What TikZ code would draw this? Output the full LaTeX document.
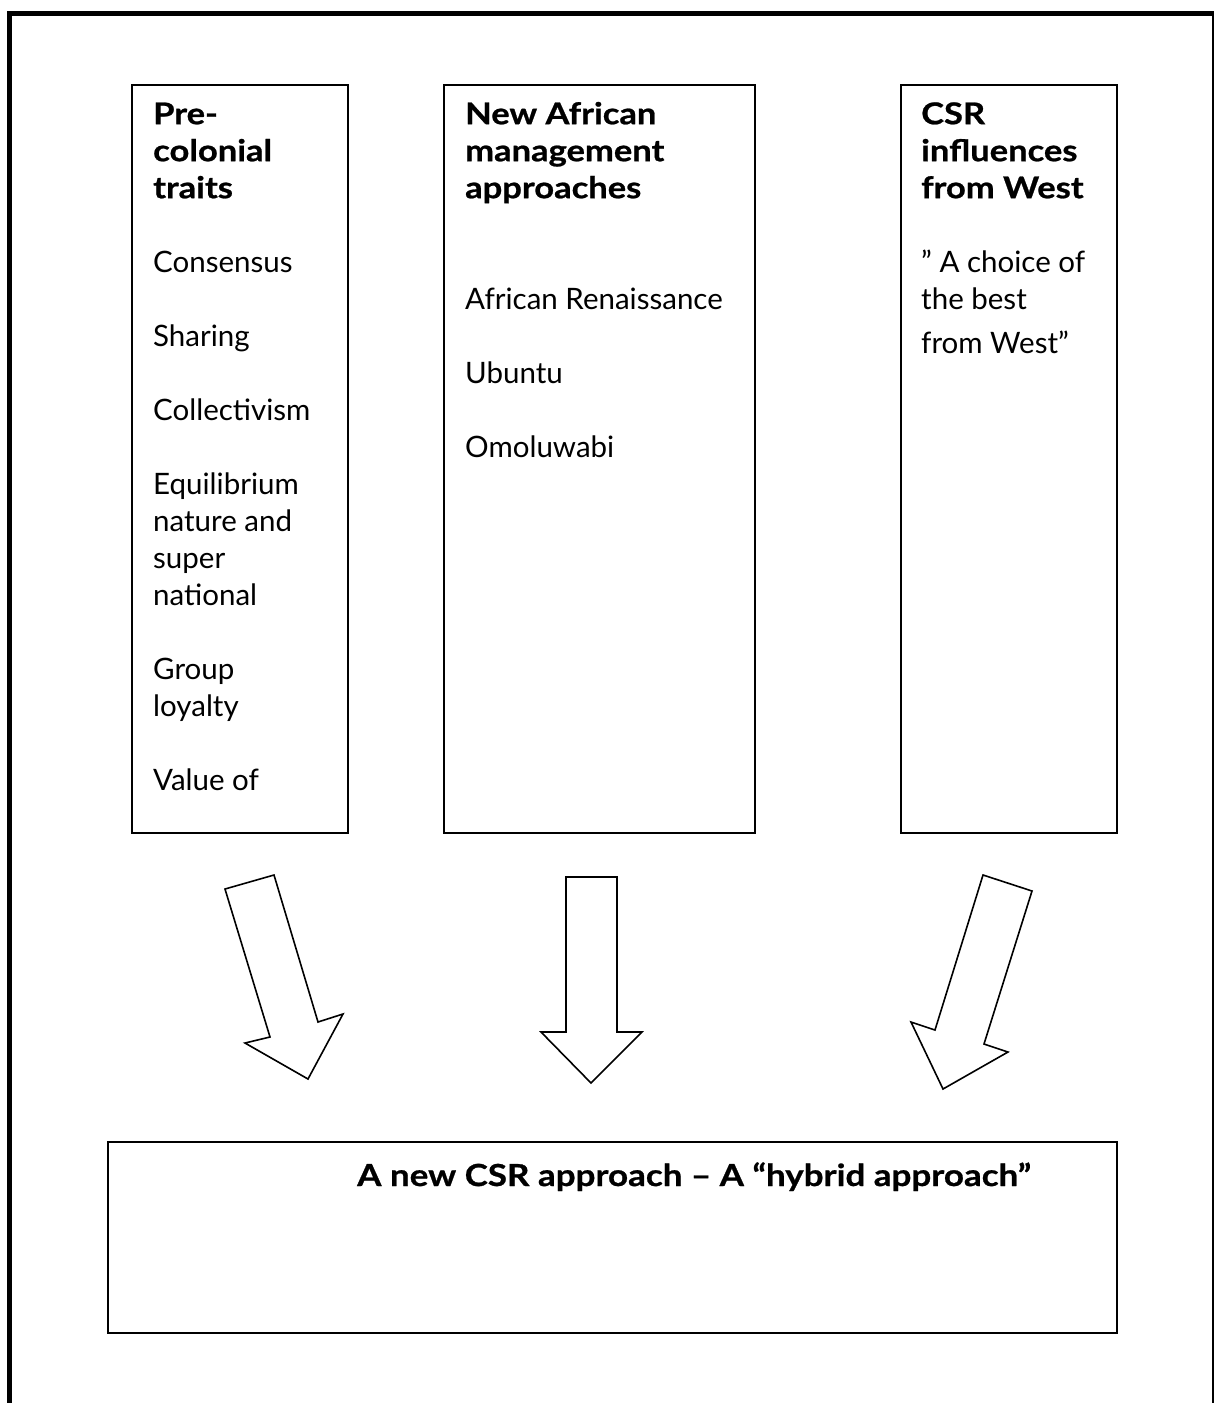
\documentclass[tikz,border=0pt]{standalone}
\usepackage{fontspec}
\setmainfont{Lato}
\newfontfamily\headfont[FakeStretch=1.15,FakeBold=0.8]{Lato}
\newcommand\bodyfont{\fontsize{29.5}{37}\selectfont}
\newcommand\headbf{\headfont\bfseries\fontsize{30}{37}\selectfont}
\begin{document}
\begin{tikzpicture}[x=1pt,y=-1pt,
  outerframe/.style={line width=5pt, line join=miter},
  column/.style={draw, line width=1.6pt, anchor=north west, inner sep=0pt, outer sep=0pt},
  coltext/.style={anchor=north west, inner sep=0pt, align=left, font=\bodyfont},
  blockarrow/.style={draw, line width=1.6pt, line join=miter, fill=white}]
\useasboundingbox (0,0) rectangle (1214,1403);

% page frame, open at the bottom
\draw[outerframe] (9.5,1420) -- (9.5,13) -- (1214.5,13) -- (1214.5,1420);

% the three source columns
\node[column, minimum width=216pt, minimum height=748pt] (pre) at (132,85) {};
\node[column, minimum width=311pt, minimum height=748pt] (naf) at (444,85) {};
\node[column, minimum width=216pt, minimum height=748pt] (west) at (901,85) {};

\node[coltext] (pretext) at (153,94) {\rule{0pt}{30pt}{\headbf Pre-}\\{\headbf colonial}\\{\headbf traits}\\[37pt]
  Consensus\\[37pt]Sharing\\[37pt]Collectivism\\[37pt]Equilibrium\\nature and\\super\\national\\[37pt]
  Group\\loyalty\\[37pt]Value of};
\node[coltext] (naftext) at (465,94) {\rule{0pt}{30pt}{\headbf New African}\\{\headbf management}\\{\headbf approaches}\\[74pt]
  African Renaissance\\[37pt]Ubuntu\\[37pt]Omoluwabi};
\node[coltext] (westtext) at (921,94) {\rule{0pt}{30pt}{\headbf CSR}\\{\headbf influences}\\{\headbf from West}\\[37pt]
  ” A choice of\\the best\\[7pt]from West”};

% the resulting approach
\node[column, line width=2.2pt, minimum width=1009pt, minimum height=191pt] (hybrid) at (108,1142) {};
\node[anchor=base west, inner sep=0pt] (hybridtext) at (357,1186) {\headbf\fontsize{30.4}{37}\selectfont A new CSR approach – A “hybrid approach”};

% block arrows from the columns into the approach box
\coordinate (a1) at (225,889);
\coordinate (a2) at (274,875);
\coordinate (a3) at (318,1022);
\coordinate (a4) at (343,1014);
\coordinate (a5) at (308,1079);
\coordinate (a6) at (245,1043);
\coordinate (a7) at (270,1037);
\draw[blockarrow] (a1) -- (a2) -- (a3) -- (a4) -- (a5) -- (a6) -- (a7) -- cycle;

\coordinate (b1) at (566,877);
\coordinate (b2) at (617,877);
\coordinate (b3) at (617,1032);
\coordinate (b4) at (642,1032);
\coordinate (b5) at (591,1083);
\coordinate (b6) at (541,1032);
\coordinate (b7) at (566,1032);
\draw[blockarrow] (b1) -- (b2) -- (b3) -- (b4) -- (b5) -- (b6) -- (b7) -- cycle;

\coordinate (c1) at (983,875);
\coordinate (c2) at (1032,891);
\coordinate (c3) at (984,1044);
\coordinate (c4) at (1008,1052);
\coordinate (c5) at (943,1089);
\coordinate (c6) at (911,1022);
\coordinate (c7) at (935,1030);
\draw[blockarrow] (c1) -- (c2) -- (c3) -- (c4) -- (c5) -- (c6) -- (c7) -- cycle;
\end{tikzpicture}
\end{document}
